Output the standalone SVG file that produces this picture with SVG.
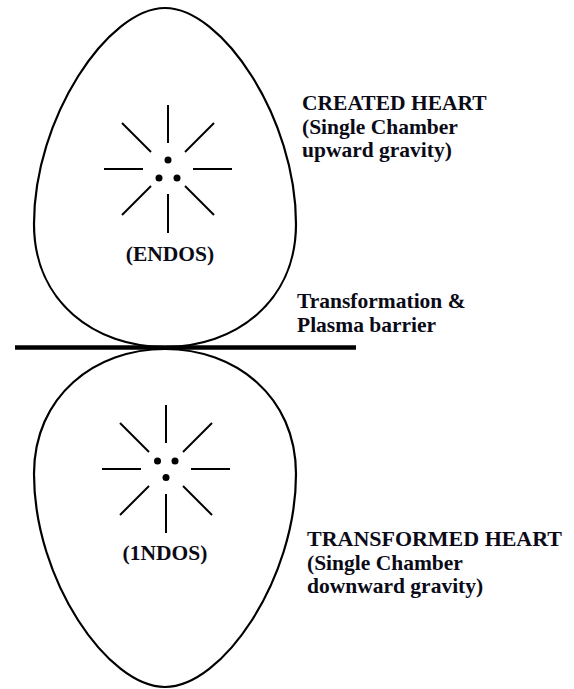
<svg xmlns="http://www.w3.org/2000/svg" width="574" height="689" viewBox="0 0 574 689">
<style>
.egg{fill:none;stroke:#000;stroke-width:2.2}
.ray{stroke:#000;stroke-width:2;stroke-linecap:butt}
.lbl{font-family:"Liberation Serif","Times New Roman",serif;font-weight:bold;font-size:21.5px;fill:#0b0b18}
</style>
<defs>
<g id="rays">
<line class="ray" x1="0" y1="-64" x2="0" y2="-26"/>
<line class="ray" x1="0" y1="25" x2="0" y2="64"/>
<line class="ray" x1="-64" y1="0" x2="-25" y2="0"/>
<line class="ray" x1="25" y1="0" x2="64" y2="0"/>
<line class="ray" x1="-46" y1="-46" x2="-17" y2="-17"/>
<line class="ray" x1="46" y1="-46" x2="17" y2="-17"/>
<line class="ray" x1="-46" y1="46" x2="-17" y2="17"/>
<line class="ray" x1="46" y1="46" x2="17" y2="17"/>
</g>
</defs>
<rect width="574" height="689" fill="#fff"/>
<g id="created-heart">
<path class="egg" d="M165,8 C222,8 296,118 296,224 C296,302 235,347 165,347 C95,347 34,302 34,224 C34,118 108,8 165,8 Z"/>
<use href="#rays" transform="translate(168,169)"/>
<circle cx="168" cy="160" r="3.5"/>
<circle cx="159" cy="178" r="3.5"/>
<circle cx="177" cy="178" r="3.5"/>
<text class="lbl" x="170" y="261" text-anchor="middle">(ENDOS)</text>
<text class="lbl" x="302" y="110">CREATED HEART</text>
<text class="lbl" x="302" y="134">(Single Chamber</text>
<text class="lbl" x="302" y="157">upward gravity)</text>
</g>
<g id="transformed-heart">
<path class="egg" d="M165,349 C235,349 296,396 296,474 C296,580 222,687 165,687 C108,687 34,580 34,474 C34,396 95,349 165,349 Z"/>
<use href="#rays" transform="translate(166,469)"/>
<circle cx="157.5" cy="461" r="3.5"/>
<circle cx="175" cy="461" r="3.5"/>
<circle cx="166" cy="477.5" r="3.5"/>
<text class="lbl" x="165" y="560" text-anchor="middle">(1NDOS)</text>
<text class="lbl" x="307" y="546" textLength="255" lengthAdjust="spacingAndGlyphs">TRANSFORMED HEART</text>
<text class="lbl" x="307" y="570">(Single Chamber</text>
<text class="lbl" x="307" y="593">downward gravity)</text>
</g>
<g id="connectors">
<line x1="15" y1="347.5" x2="356" y2="347.5" stroke="#000" stroke-width="4.5"/>
</g>
<g id="barrier-label">
<text class="lbl" x="297" y="308">Transformation &amp;</text>
<text class="lbl" x="297" y="332">Plasma barrier</text>
</g>
</svg>
